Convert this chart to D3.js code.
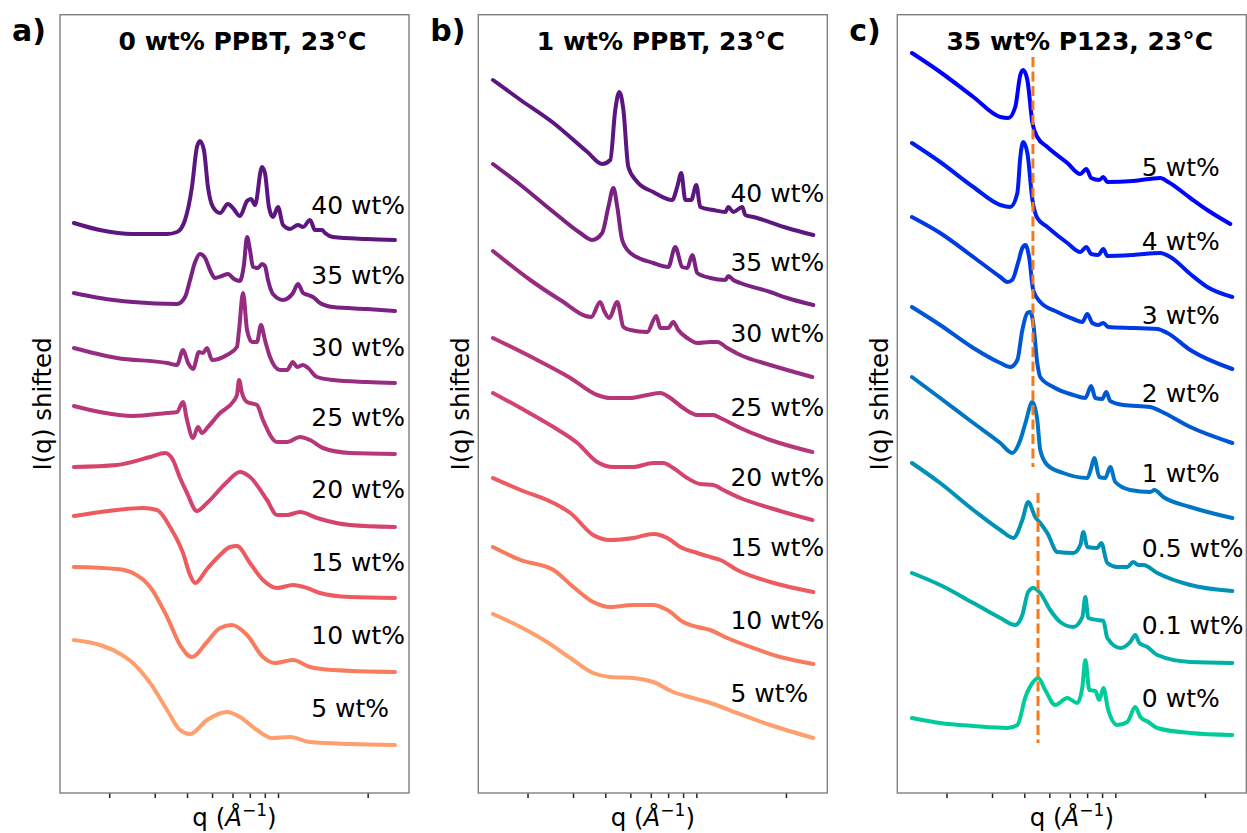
<!DOCTYPE html>
<html>
<head>
<meta charset="utf-8">
<script src="https://cdn.jsdelivr.net/npm/d3@7"></script>
<style>
  body { margin: 0; background: #fff; }
  text { font-family: "DejaVu Sans", sans-serif; fill: #000; }
</style>
</head>
<body>
<div id="chart"></div>
<script>

// q in 1/Angstrom, I = log intensity shifted (arb. units)

// ---- panel a) 0 wt% PPBT ----
var aLabels = ['40 wt%', '35 wt%', '30 wt%', '25 wt%', '20 wt%', '15 wt%', '10 wt%', '5 wt%'];
var aLabelY = [5.88, 5.18, 4.46, 3.76, 3.04, 2.31, 1.58, 0.85];
var a40 = [[0.0146,5.70],[0.0184,5.63],[0.0247,5.59],[0.0335,5.59],[0.0366,5.61],[0.0393,5.73],[0.0418,6.06],[0.0437,6.46],[0.0449,6.52],[0.0465,6.43],[0.0482,6.06],[0.0504,5.86],[0.0537,5.80],[0.0576,5.89],[0.0602,5.85],[0.0641,5.77],[0.0683,5.92],[0.0707,5.94],[0.0733,5.88],[0.0780,6.26],[0.0801,6.20],[0.0830,5.86],[0.0860,5.76],[0.0900,5.86],[0.0941,5.68],[0.1001,5.64],[0.1075,5.68],[0.1125,5.66],[0.1197,5.73],[0.1251,5.63],[0.1332,5.63],[0.1368,5.60],[0.1469,5.56],[0.1988,5.54],[0.2552,5.53]];
var a35 = [[0.0146,5.00],[0.0184,4.95],[0.0247,4.91],[0.0366,4.89],[0.0393,4.96],[0.0411,5.13],[0.0430,5.31],[0.0449,5.39],[0.0470,5.35],[0.0491,5.23],[0.0513,5.15],[0.0546,5.17],[0.0576,5.19],[0.0608,5.14],[0.0641,5.12],[0.0664,5.28],[0.0683,5.56],[0.0701,5.43],[0.0720,5.26],[0.0753,5.25],[0.0780,5.29],[0.0801,5.27],[0.0823,5.13],[0.0860,4.99],[0.0941,4.93],[0.1028,5.00],[0.1075,5.09],[0.1125,5.00],[0.1176,4.98],[0.1229,4.96],[0.1308,4.90],[0.1469,4.86],[0.1988,4.84],[0.2552,4.82]];
var a30 = [[0.0146,4.45],[0.0214,4.35],[0.0335,4.30],[0.0366,4.28],[0.0386,4.43],[0.0404,4.30],[0.0422,4.24],[0.0445,4.41],[0.0461,4.40],[0.0478,4.45],[0.0500,4.33],[0.0571,4.38],[0.0624,4.46],[0.0636,4.63],[0.0659,5.00],[0.0683,4.63],[0.0714,4.51],[0.0746,4.51],[0.0773,4.68],[0.0801,4.53],[0.0838,4.36],[0.0916,4.23],[0.0975,4.23],[0.1028,4.31],[0.1066,4.26],[0.1125,4.28],[0.1176,4.25],[0.1274,4.16],[0.1469,4.13],[0.1988,4.11],[0.2552,4.10]];
var a25 = [[0.0146,3.87],[0.0184,3.81],[0.0247,3.77],[0.0335,3.80],[0.0366,3.81],[0.0386,3.91],[0.0400,3.73],[0.0422,3.55],[0.0441,3.66],[0.0457,3.60],[0.0482,3.66],[0.0537,3.80],[0.0602,3.91],[0.0624,3.98],[0.0636,4.13],[0.0653,4.00],[0.0683,3.91],[0.0746,3.88],[0.0787,3.73],[0.0892,3.51],[0.0975,3.51],[0.1095,3.56],[0.1197,3.53],[0.1343,3.45],[0.1709,3.40],[0.2552,3.39]];
var a20 = [[0.0146,3.26],[0.0214,3.28],[0.0288,3.36],[0.0329,3.40],[0.0353,3.33],[0.0376,3.15],[0.0400,3.00],[0.0437,2.82],[0.0478,2.90],[0.0571,3.11],[0.0641,3.21],[0.0701,3.16],[0.0816,2.93],[0.0892,2.78],[0.0975,2.78],[0.1095,2.81],[0.1274,2.75],[0.1709,2.68],[0.2552,2.66]];
var a15 = [[0.0146,2.77],[0.0214,2.83],[0.0270,2.85],[0.0306,2.83],[0.0344,2.66],[0.0386,2.40],[0.0411,2.18],[0.0430,2.10],[0.0478,2.24],[0.0537,2.38],[0.0587,2.46],[0.0624,2.47],[0.0701,2.30],[0.0787,2.13],[0.0892,2.05],[0.1028,2.08],[0.1166,2.05],[0.1308,2.00],[0.1709,1.96],[0.2552,1.95]];
var a10 = [[0.0146,2.26],[0.0214,2.24],[0.0247,2.20],[0.0288,2.06],[0.0335,1.76],[0.0376,1.48],[0.0418,1.36],[0.0478,1.51],[0.0537,1.65],[0.0597,1.68],[0.0683,1.58],[0.0787,1.36],[0.0876,1.30],[0.1028,1.33],[0.1197,1.26],[0.1469,1.23],[0.2552,1.21]];
var a5 = [[0.0146,1.53],[0.0184,1.48],[0.0214,1.41],[0.0247,1.30],[0.0288,1.10],[0.0335,0.83],[0.0376,0.63],[0.0411,0.59],[0.0478,0.73],[0.0571,0.81],[0.0641,0.76],[0.0746,0.63],[0.0853,0.55],[0.1001,0.56],[0.1197,0.51],[0.1709,0.49],[0.2552,0.48]];

// ---- panel b) 1 wt% PPBT ----
var bLabels = ['40 wt%', '35 wt%', '30 wt%', '25 wt%', '20 wt%', '15 wt%', '10 wt%', '5 wt%'];
var bLabelY = [6.00, 5.31, 4.60, 3.86, 3.16, 2.46, 1.73, 1.00];
var b40 = [[0.0147,7.13],[0.0188,6.93],[0.0252,6.70],[0.0341,6.41],[0.0389,6.29],[0.0418,6.33],[0.0437,6.83],[0.0453,7.01],[0.0470,6.83],[0.0491,6.26],[0.0532,6.11],[0.0613,6.01],[0.0726,5.93],[0.0759,6.06],[0.0787,6.20],[0.0816,5.93],[0.0860,5.93],[0.0900,6.08],[0.0932,5.86],[0.1047,5.83],[0.1166,5.81],[0.1197,5.86],[0.1251,5.81],[0.1355,5.86],[0.1393,5.78],[0.1495,5.76],[0.1591,5.74],[0.2023,5.65],[0.2552,5.58]];
var b35 = [[0.0147,6.29],[0.0188,6.08],[0.0252,5.81],[0.0320,5.60],[0.0356,5.53],[0.0389,5.60],[0.0411,5.86],[0.0430,6.05],[0.0445,5.86],[0.0465,5.53],[0.0500,5.40],[0.0613,5.30],[0.0701,5.26],[0.0746,5.46],[0.0794,5.26],[0.0830,5.25],[0.0868,5.38],[0.0908,5.20],[0.1019,5.15],[0.1166,5.13],[0.1197,5.17],[0.1251,5.13],[0.1332,5.10],[0.1740,5.01],[0.2023,4.95],[0.2552,4.88]];
var b30 = [[0.0147,5.42],[0.0205,5.13],[0.0268,4.93],[0.0353,4.76],[0.0382,4.91],[0.0396,4.82],[0.0414,4.75],[0.0445,4.91],[0.0470,4.66],[0.0500,4.63],[0.0581,4.61],[0.0630,4.77],[0.0653,4.65],[0.0701,4.65],[0.0733,4.71],[0.0766,4.63],[0.0830,4.55],[0.0908,4.50],[0.1019,4.51],[0.1085,4.51],[0.1186,4.45],[0.1332,4.38],[0.1740,4.28],[0.2530,4.16]];
var b25 = [[0.0147,4.55],[0.0218,4.33],[0.0293,4.15],[0.0372,3.98],[0.0418,3.95],[0.0500,3.95],[0.0581,3.98],[0.0653,4.00],[0.0714,3.95],[0.0801,3.85],[0.0908,3.78],[0.1047,3.78],[0.1115,3.75],[0.1332,3.65],[0.1740,3.53],[0.2530,3.41]];
var b20 = [[0.0147,4.00],[0.0188,3.85],[0.0252,3.66],[0.0312,3.50],[0.0372,3.31],[0.0430,3.26],[0.0513,3.26],[0.0613,3.30],[0.0671,3.30],[0.0733,3.25],[0.0830,3.15],[0.0932,3.09],[0.1047,3.08],[0.1145,3.03],[0.1332,2.95],[0.1740,2.85],[0.2530,2.73]];
var b15 = [[0.0147,3.15],[0.0188,3.03],[0.0252,2.90],[0.0293,2.80],[0.0359,2.58],[0.0418,2.53],[0.0513,2.55],[0.0613,2.59],[0.0695,2.55],[0.0780,2.46],[0.0908,2.40],[0.1019,2.36],[0.1115,2.33],[0.1296,2.23],[0.1740,2.11],[0.2552,2.01]];
var b10 = [[0.0147,2.46],[0.0188,2.33],[0.0252,2.23],[0.0301,2.06],[0.0359,1.91],[0.0418,1.86],[0.0513,1.88],[0.0613,1.88],[0.0695,1.83],[0.0801,1.71],[0.0908,1.66],[0.1019,1.63],[0.1186,1.55],[0.1495,1.45],[0.1902,1.36],[0.2552,1.29]];
var b5 = [[0.0147,1.79],[0.0188,1.66],[0.0238,1.51],[0.0293,1.35],[0.0359,1.20],[0.0418,1.16],[0.0513,1.15],[0.0613,1.11],[0.0733,1.01],[0.0876,0.95],[0.1019,0.90],[0.1296,0.80],[0.1740,0.68],[0.2552,0.55]];

// ---- panel c) 35 wt% P123 with PPBT ----
var cLabels = ['5 wt%', '4 wt%', '3 wt%', '2 wt%', '1 wt%', '0.5 wt%', '0.1 wt%', '0 wt%'];
var cLabelY = [6.26, 5.52, 4.78, 4.00, 3.20, 2.45, 1.68, 0.95];
var c5 = [[0.0147,7.40],[0.0189,7.21],[0.0254,6.96],[0.0323,6.76],[0.0347,6.75],[0.0369,6.86],[0.0386,7.18],[0.0396,7.23],[0.0411,7.13],[0.0430,6.70],[0.0449,6.56],[0.0491,6.46],[0.0587,6.30],[0.0659,6.19],[0.0695,6.24],[0.0726,6.15],[0.0780,6.13],[0.0809,6.16],[0.0838,6.11],[0.1056,6.12],[0.1343,6.15],[0.1443,6.11],[0.1755,5.95],[0.2042,5.83],[0.2507,5.69]];
var c4 = [[0.0147,6.50],[0.0189,6.31],[0.0254,6.06],[0.0323,5.88],[0.0353,5.86],[0.0376,6.00],[0.0386,6.36],[0.0396,6.51],[0.0411,6.40],[0.0430,5.93],[0.0449,5.75],[0.0491,5.66],[0.0587,5.50],[0.0659,5.41],[0.0695,5.46],[0.0726,5.39],[0.0773,5.38],[0.0809,5.44],[0.0838,5.37],[0.1056,5.38],[0.1343,5.40],[0.1469,5.36],[0.1755,5.19],[0.2042,5.06],[0.2552,4.96]];
var c3 = [[0.0147,5.76],[0.0189,5.60],[0.0254,5.36],[0.0323,5.16],[0.0344,5.11],[0.0359,5.13],[0.0379,5.31],[0.0393,5.45],[0.0404,5.48],[0.0418,5.35],[0.0433,5.03],[0.0461,4.91],[0.0537,4.81],[0.0619,4.74],[0.0671,4.71],[0.0701,4.79],[0.0733,4.70],[0.0773,4.68],[0.0809,4.70],[0.0845,4.66],[0.1056,4.65],[0.1308,4.64],[0.1430,4.60],[0.1755,4.43],[0.2552,4.24]];
var c2 = [[0.0147,4.86],[0.0189,4.68],[0.0254,4.45],[0.0323,4.30],[0.0353,4.26],[0.0376,4.33],[0.0393,4.63],[0.0411,4.80],[0.0422,4.81],[0.0433,4.70],[0.0449,4.30],[0.0461,4.16],[0.0518,4.06],[0.0619,3.98],[0.0689,3.95],[0.0726,4.07],[0.0753,3.95],[0.0801,3.94],[0.0830,4.01],[0.0860,3.92],[0.0966,3.88],[0.1229,3.86],[0.1343,3.82],[0.1755,3.66],[0.2552,3.50]];
var c1 = [[0.0147,4.16],[0.0189,3.95],[0.0254,3.70],[0.0323,3.50],[0.0359,3.40],[0.0386,3.53],[0.0404,3.70],[0.0430,3.91],[0.0449,3.73],[0.0461,3.43],[0.0491,3.28],[0.0566,3.20],[0.0701,3.15],[0.0726,3.25],[0.0746,3.35],[0.0780,3.16],[0.0823,3.15],[0.0860,3.26],[0.0900,3.11],[0.1028,3.03],[0.1229,3.01],[0.1274,3.03],[0.1380,2.96],[0.1755,2.86],[0.2552,2.75]];
var c05 = [[0.0147,3.30],[0.0189,3.10],[0.0254,2.83],[0.0323,2.63],[0.0363,2.55],[0.0393,2.73],[0.0414,2.91],[0.0441,2.76],[0.0461,2.70],[0.0491,2.60],[0.0537,2.41],[0.0619,2.40],[0.0659,2.48],[0.0677,2.61],[0.0701,2.46],[0.0766,2.45],[0.0794,2.50],[0.0838,2.30],[0.0916,2.26],[0.1001,2.26],[0.1056,2.31],[0.1105,2.28],[0.1155,2.28],[0.1308,2.20],[0.1755,2.08],[0.2552,2.02]];
var c01 = [[0.0147,2.20],[0.0189,2.08],[0.0254,1.90],[0.0323,1.75],[0.0369,1.68],[0.0393,1.78],[0.0414,2.01],[0.0433,2.05],[0.0461,2.00],[0.0504,1.83],[0.0551,1.71],[0.0619,1.66],[0.0671,1.76],[0.0689,1.96],[0.0707,1.75],[0.0766,1.73],[0.0809,1.72],[0.0838,1.55],[0.0941,1.45],[0.1028,1.51],[0.1075,1.58],[0.1115,1.50],[0.1197,1.46],[0.1308,1.38],[0.1755,1.31],[0.2552,1.30]];
var c0 = [[0.0147,0.75],[0.0189,0.70],[0.0254,0.67],[0.0344,0.65],[0.0376,0.68],[0.0404,0.96],[0.0430,1.10],[0.0453,1.15],[0.0482,1.03],[0.0527,0.88],[0.0587,0.95],[0.0641,0.90],[0.0671,1.06],[0.0689,1.33],[0.0714,1.03],[0.0753,1.02],[0.0780,0.93],[0.0809,1.05],[0.0845,0.83],[0.0916,0.68],[0.1001,0.71],[0.1075,0.86],[0.1125,0.76],[0.1208,0.71],[0.1308,0.65],[0.1755,0.60],[0.2552,0.58]];

// dashed guides in panel c (peak position)
var cGuideQ = [0.0432, 0.0452];
var cGuideTop = [7.36, 3.00];
var cGuideBottom = [3.26, 0.50];

// minor ticks on the log q axis (no major labels)
var qTicks = [0.02, 0.03, 0.04, 0.05, 0.06, 0.07, 0.08, 0.09, 0.2, 0.3];


function renderPanel(params) {
    var attrs = {
        left: 60,
        top: 14.7,
        width: 349,
        height: 778.3,
        letter: 'a)',
        title: '',
        series: [],
        labels: [],
        labelY: [],
        labelQ: 0.121,
        colors: [],
        guides: null
    };
    Object.keys(attrs).forEach(function (key) {
        if (params && params[key] !== undefined) attrs[key] = params[key];
    });

    var main = function (svg) {
        var x = d3.scaleLog().domain([0.0129, 0.2891]).range([0, attrs.width]);
        var y = d3.scaleLinear().domain([0, 7.783]).range([attrs.height, 0]);

        var g = svg.append('g')
            .attr('transform', 'translate(' + attrs.left + ',' + attrs.top + ')');

        // bottom minor ticks
        var axis = d3.axisBottom(x)
            .tickValues(qTicks.filter(function (d) { return d > x.domain()[0] && d < x.domain()[1]; }))
            .tickFormat('')
            .tickSize(5)
            .tickSizeOuter(0);
        var ax = g.append('g')
            .attr('transform', 'translate(0,' + attrs.height + ')')
            .call(axis);
        ax.select('.domain').remove();
        ax.selectAll('line').attr('stroke', '#222').attr('stroke-width', 1.5);

        var line = d3.line()
            .x(function (d) { return x(d[0]); })
            .y(function (d) { return y(d[1]); })
            .curve(d3.curveMonotoneX);

        g.selectAll('path.curve')
            .data(attrs.series)
            .enter()
            .append('path')
            .attr('class', 'curve')
            .attr('d', line)
            .attr('fill', 'none')
            .attr('stroke', function (d, i) { return attrs.colors[i]; })
            .attr('stroke-width', 4)
            .attr('stroke-linejoin', 'round')
            .attr('stroke-linecap', 'round');

        if (attrs.guides) {
            g.selectAll('line.guide')
                .data(attrs.guides.q)
                .enter()
                .append('line')
                .attr('class', 'guide')
                .attr('x1', function (d) { return x(d); })
                .attr('x2', function (d) { return x(d); })
                .attr('y1', function (d, i) { return y(attrs.guides.top[i]); })
                .attr('y2', function (d, i) { return y(attrs.guides.bottom[i]); })
                .attr('stroke', '#f47a1c')
                .attr('stroke-width', 3)
                .attr('stroke-dasharray', '10,4.5');
        }

        g.selectAll('text.lab')
            .data(attrs.labels)
            .enter()
            .append('text')
            .attr('class', 'lab')
            .attr('x', x(attrs.labelQ))
            .attr('y', function (d, i) { return y(attrs.labelY[i]); })
            .attr('dy', '0.35em')
            .attr('font-size', 25)
            .text(function (d) { return d; });

        // frame
        g.append('rect')
            .attr('width', attrs.width)
            .attr('height', attrs.height)
            .attr('fill', 'none')
            .attr('stroke', '#808080')
            .attr('stroke-width', 1.4);

        g.append('text')
            .attr('x', attrs.width / 2 + 8)
            .attr('y', 35.5)
            .attr('text-anchor', 'middle')
            .attr('font-size', 25)
            .attr('font-weight', 'bold')
            .text(attrs.title);

        svg.append('text')
            .attr('x', attrs.left - 48)
            .attr('y', 41)
            .attr('font-size', 30)
            .attr('font-weight', 'bold')
            .text(attrs.letter);

        svg.append('text')
            .attr('transform', 'translate(' + (attrs.left - 18) + ',' + (attrs.top + attrs.height / 2) + ') rotate(-90)')
            .attr('text-anchor', 'middle')
            .attr('dy', '0.35em')
            .attr('font-size', 24.5)
            .text('I(q) shifted');

        var xl = svg.append('text')
            .attr('x', attrs.left + attrs.width / 2)
            .attr('y', 826)
            .attr('text-anchor', 'middle')
            .attr('font-size', 24.5);
        xl.append('tspan').text('q (');
        xl.append('tspan').attr('font-style', 'italic').text('\u00C5');
        xl.append('tspan').attr('font-size', 17).attr('dy', -10).text('\u22121');
        xl.append('tspan').attr('dy', 10).text(')');
    };

    return main;
}


var svg = d3.select('#chart')
    .append('svg')
    .attr('width', 1247)
    .attr('height', 833);

var magmaT = [0.28, 0.354, 0.429, 0.503, 0.577, 0.651, 0.726, 0.80];
var magmaColors = magmaT.map(function (t) { return d3.interpolateMagma(t); });
var winter = d3.interpolateRgb('#0000ff', '#00ff80');
var winterColors = d3.range(8).map(function (i) { return winter(i * 0.8 / 7); });

renderPanel({
    left: 60, letter: 'a)', title: '0 wt% PPBT, 23\u00B0C',
    series: [a40, a35, a30, a25, a20, a15, a10, a5],
    labels: aLabels, labelY: aLabelY, labelQ: 0.121,
    colors: magmaColors
})(svg);

renderPanel({
    left: 478.3, letter: 'b)', title: '1 wt% PPBT, 23\u00B0C',
    series: [b40, b35, b30, b25, b20, b15, b10, b5],
    labels: bLabels, labelY: bLabelY, labelQ: 0.122,
    colors: magmaColors
})(svg);

renderPanel({
    left: 897.3, letter: 'c)', title: '35 wt% P123, 23\u00B0C',
    series: [c5, c4, c3, c2, c1, c05, c01, c0],
    labels: cLabels, labelY: cLabelY, labelQ: 0.114,
    colors: winterColors,
    guides: { q: cGuideQ, top: cGuideTop, bottom: cGuideBottom }
})(svg);

</script>
</body>
</html>
